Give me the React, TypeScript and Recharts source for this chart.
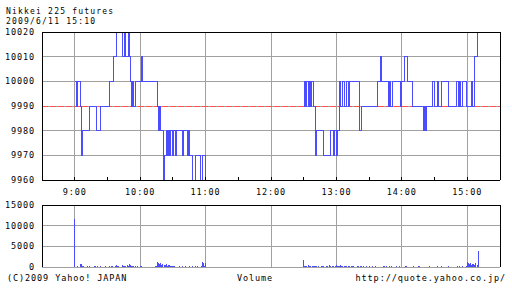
import React from "react";
import { LineChart, Line, BarChart, Bar, XAxis, YAxis, CartesianGrid } from "recharts";

const FONT = "'DejaVu Sans Mono', 'Liberation Mono', monospace";
const BLUE = "#4c4cff";
const GRID = "#a0a0a0";

// axis labels / ticks
const hourLabels = ["9:00", "10:00", "11:00", "12:00", "13:00", "14:00", "15:00"];
const frameTimes = [
  "8:30", "9:00", "9:30", "10:00", "10:30", "11:00", "11:30", "12:00",
  "12:30", "13:00", "13:30", "14:00", "14:30", "15:00", "15:30",
];
const priceTicks = [9960, 9970, 9980, 9990, 10000, 10010, 10020];
const volumeTicks = [0, 5000, 10000, 15000];
const basePrice = 9990;

// price change points (step after)
const priceTimes = [
  "9:00", "9:02", "9:03", "9:05", "9:06", "9:07", "9:14", "9:20", "9:24", "9:32",
  "9:36", "9:38", "9:44", "9:46", "9:47", "9:49", "9:50", "9:51", "9:52", "9:53",
  "9:54", "9:56", "10:01", "10:02", "10:16", "10:17", "10:18", "10:19", "10:21", "10:22",
  "10:24", "10:25", "10:26", "10:27", "10:28", "10:30", "10:31", "10:32", "10:33", "10:39",
  "10:40", "10:43", "10:44", "10:45", "10:48", "10:51", "10:55", "10:57", "11:00",
  "12:30", "12:31", "12:32", "12:33", "12:34", "12:35", "12:36", "12:37", "12:39", "12:41",
  "12:42", "12:48", "12:55", "12:57", "12:58", "13:00", "13:01", "13:03", "13:04", "13:06",
  "13:07", "13:09", "13:11", "13:12", "13:21", "13:23", "13:38", "13:40", "13:41", "13:48",
  "13:49", "13:50", "13:51", "13:59", "14:00", "14:02", "14:05", "14:10", "14:20", "14:21",
  "14:22", "14:23", "14:28", "14:30", "14:33", "14:34", "14:36", "14:43", "14:50", "14:52",
  "14:53", "14:54", "14:56", "14:59", "15:04", "15:05", "15:07", "15:09", "15:10",
];
const priceValues = [
  10000, 9990, 10000, 9990, 9970, 9980, 9990, 9980, 9990, 10000,
  10010, 10020, 10010, 10020, 10010, 10020, 10010, 10000, 9990, 10000,
  9990, 10000, 10010, 10000, 9990, 9980, 9990, 9980, 9960, 9970,
  9980, 9970, 9980, 9970, 9980, 9970, 9980, 9970, 9980, 9970,
  9980, 9970, 9980, 9970, 9960, 9970, 9960, 9970, 9960,
  9990, 10000, 9990, 10000, 9990, 10000, 9990, 10000, 9990, 9970,
  9980, 9970, 9980, 9970, 9980, 9970, 9980, 10000, 9990, 10000,
  9990, 10000, 9990, 10000, 9980, 9990, 10000, 10010, 10000, 9990,
  10000, 9990, 10000, 9990, 10000, 10010, 10000, 9990, 9980, 9990,
  9980, 9990, 10000, 9990, 10000, 9990, 10000, 9990, 10000, 9990,
  10000, 9990, 10000, 9990, 10000, 9990, 10010, 10020, 10020,
];
const lunchBreak = "11:30";

// per-minute volume
const morningStart = "9:00";
const morningVolume = [
  11700, 120, 60, 150, 90, 750, 650, 260, 180, 120,
  90, 60, 140, 80, 350, 120, 70, 60, 300, 150,
  100, 250, 80, 60, 320, 110, 90, 60, 150, 80,
  60, 120, 280, 90, 140, 300, 120, 250, 380, 200,
  150, 90, 120, 70, 400, 260, 180, 350, 420, 250,
  620, 550, 300, 180, 240, 120, 200, 90, 140, 80,
  180, 260, 120, 80, 60, 40, 90, 60, 50, 80,
  60, 90, 120, 80, 220, 160, 1250, 1050, 720, 980,
  600, 820, 540, 450, 680, 300, 520, 380, 260, 300,
  180, 220, 160, 90, 120, 80, 150, 100, 60, 260,
  120, 80, 200, 100, 60, 150, 110, 80, 300, 120,
  90, 160, 70, 280, 60, 90, 180, 1100, 950, 150,
  1050,
];
const afternoonStart = "12:30";
const afternoonVolume = [
  1800, 300, 250, 150, 450, 200, 180, 120, 300, 220,
  150, 350, 180, 120, 250, 90, 140, 200, 300, 120,
  100, 200, 150, 80, 400, 300, 250, 180, 120, 160,
  380, 200, 250, 150, 420, 300, 200, 180, 350, 260,
  120, 160, 200, 90, 140, 300, 180, 120, 80, 200,
  150, 120, 350, 180, 90, 140, 80, 120, 200, 100,
  160, 90, 120, 280, 100, 80, 150, 90, 60, 120,
  80, 60, 100, 300, 140, 90, 160, 80, 120, 200,
  90, 150, 60, 120, 80, 180, 100, 70, 130, 90,
  60, 100, 80, 150, 220, 90, 120, 80, 60, 100,
  80, 140, 90, 60, 120, 300, 150, 90, 80, 60,
  100, 70, 120, 90, 60, 160, 80, 110, 60, 90,
  80, 60, 120, 200, 90, 70, 140, 60, 100, 80,
  90, 60, 80, 150, 100, 70, 120, 90, 60, 110,
  80, 130, 90, 160, 70, 100, 250, 120, 80, 140,
  1200, 900, 650, 1000, 500, 800, 700, 600, 1050, 500,
  3800,
];

const toMin = (s: string) => {
  const [h, m] = s.split(":").map(Number);
  return h * 60 + m;
};
const fmtMin = (m: number) => `${Math.floor(m / 60)}:${String(m % 60).padStart(2, "0")}`;

const frameMins = frameTimes.map(toMin);
const hourMins = hourLabels.map(toMin);
const xDomain = [frameMins[0], frameMins[frameMins.length - 1]];
const priceDomain = [priceTicks[0], priceTicks[priceTicks.length - 1]];

const priceData = [
  ...priceTimes.map((t, i) => ({ m: toMin(t), price: priceValues[i] as number | null })),
  { m: toMin(lunchBreak), price: null },
].sort((a, b) => a.m - b.m);

const volumeData = [
  ...morningVolume.map((v, i) => ({ m: toMin(morningStart) + i, v })),
  ...afternoonVolume.map((v, i) => ({ m: toMin(afternoonStart) + i, v })),
];

const labelStyle = { fill: "#000", fontSize: 8.5, letterSpacing: 0.9, fontFamily: FONT };
const titleStyle = { fill: "#000", fontSize: 8, letterSpacing: 1.2, fontFamily: FONT };

// run a value through an axis scale (function in some versions, object with map in others)
const scaleOf = (axis: any, v: number, fallback: () => number) => {
  const s = axis && axis.scale;
  if (typeof s === "function") return s(v);
  if (s && typeof s.map === "function") return s.map(v);
  return fallback();
};
const hourGrid = (p: any) =>
  hourMins.map((m) =>
    scaleOf(p.xAxis, m, () => p.offset.left + ((m - xDomain[0]) / (xDomain[1] - xDomain[0])) * p.offset.width)
  );
const baseLine = (p: any) => [
  scaleOf(p.yAxis, basePrice, () =>
    p.offset.top + ((priceDomain[1] - basePrice) / (priceDomain[1] - priceDomain[0])) * p.offset.height
  ),
];

const BottomTick = (withLabels: boolean) => (p: any) => {
  const v = p.payload.value;
  return (
    <g>
      <line x1={p.x} y1={p.y} x2={p.x} y2={p.y - 3} stroke="#000" />
      {withLabels && hourMins.includes(v) ? (
        <text x={p.x} y={p.y + 15} textAnchor="middle" {...labelStyle}>
          {fmtMin(v)}
        </text>
      ) : null}
    </g>
  );
};
const TopTick = (p: any) => <line x1={p.x} y1={p.y} x2={p.x} y2={p.y + 3} stroke="#000" />;
const RightTick = (p: any) => <line x1={p.x} y1={p.y} x2={p.x - 3} y2={p.y} stroke="#000" />;

const Frame = (yDomain: number[], yTicks: number[], withLabels: boolean, bottomHeight: number) => [
  <XAxis
    key="xb"
    dataKey="m"
    type="number"
    domain={xDomain}
    ticks={frameMins}
    interval={0}
    allowDataOverflow
    height={bottomHeight}
    tickSize={0}
    tickMargin={0}
    tickLine={false}
    axisLine={{ stroke: "#000" }}
    tick={BottomTick(withLabels)}
  />,
  <XAxis
    key="xt"
    xAxisId="top"
    orientation="top"
    mirror
    type="number"
    domain={xDomain}
    ticks={frameMins}
    interval={0}
    tickSize={0}
    tickMargin={0}
    tickLine={false}
    axisLine={{ stroke: "#000" }}
    tick={TopTick}
  />,
  <YAxis
    key="yl"
    type="number"
    domain={yDomain}
    ticks={yTicks}
    interval={0}
    allowDataOverflow
    width={42}
    tickSize={0}
    tickMargin={7}
    tickLine={false}
    axisLine={{ stroke: "#000" }}
    tick={labelStyle}
  />,
  <YAxis
    key="yr"
    yAxisId="right"
    orientation="right"
    mirror
    type="number"
    domain={yDomain}
    ticks={yTicks}
    interval={0}
    width={10}
    tickSize={0}
    tickMargin={0}
    tickLine={false}
    axisLine={{ stroke: "#000" }}
    tick={RightTick}
  />,
];

export default function App() {
  return (
    <div
      style={{
        position: "absolute",
        left: 0,
        top: 0,
        width: 512,
        height: 288,
        background: "#fff",
        shapeRendering: "crispEdges",
      }}
    >
      <div style={{ position: "absolute", left: 0, top: 0 }}>
        <LineChart width={512} height={200} data={priceData} margin={{ top: 32, right: 12, bottom: 0, left: 0 }}>
          <CartesianGrid stroke={GRID} verticalCoordinatesGenerator={hourGrid} />
          <CartesianGrid
            vertical={false}
            horizontalCoordinatesGenerator={baseLine}
            stroke="#ff5050"
            strokeDasharray="6 2"
          />
          {Frame(priceDomain, priceTicks, true, 20)}
          <Line
            type="stepAfter"
            dataKey="price"
            stroke={BLUE}
            strokeWidth={1}
            dot={false}
            activeDot={false}
            connectNulls={false}
            isAnimationActive={false}
          />
        </LineChart>
      </div>
      <div style={{ position: "absolute", left: 0, top: 200 }}>
        <BarChart width={512} height={80} data={volumeData} margin={{ top: 5, right: 12, bottom: 13, left: 0 }}>
          <CartesianGrid stroke={GRID} verticalCoordinatesGenerator={hourGrid} />
          {Frame([volumeTicks[0], volumeTicks[volumeTicks.length - 1]], volumeTicks, false, 0)}
          <Bar dataKey="v" fill={BLUE} barSize={1} isAnimationActive={false} />
        </BarChart>
      </div>
      <svg width={512} height={288} style={{ position: "absolute", left: 0, top: 0, pointerEvents: "none" }}>
        <text x={6} y={14} {...titleStyle}>Nikkei 225 futures</text>
        <text x={6} y={23.5} {...titleStyle}>2009/6/11 15:10</text>
        <text x={7} y={281} {...labelStyle}>(C)2009 Yahoo! JAPAN</text>
        <text x={237} y={281} {...labelStyle}>Volume</text>
        <text x={506} y={281} textAnchor="end" {...labelStyle}>http://quote.yahoo.co.jp/</text>
      </svg>
    </div>
  );
}
